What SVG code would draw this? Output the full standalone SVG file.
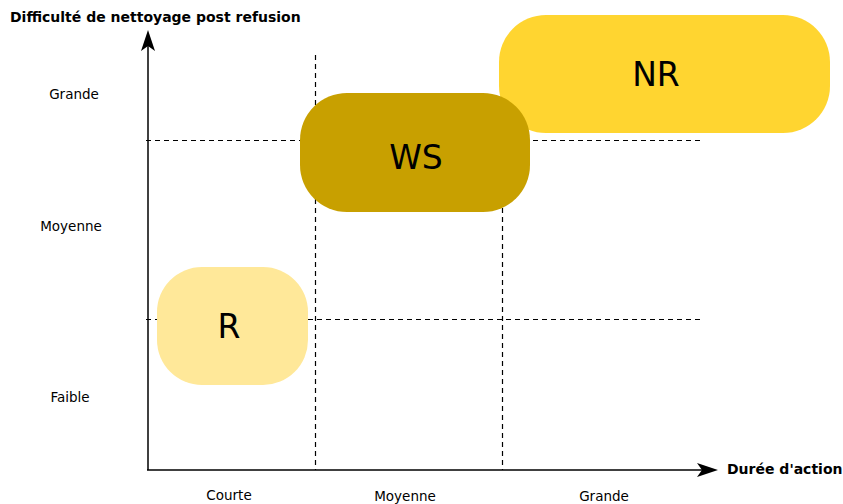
<svg xmlns="http://www.w3.org/2000/svg" width="843" height="504" viewBox="0 0 843 504">
<style>
.lbl{font-family:"DejaVu Sans",Verdana,sans-serif;font-size:13.5px;fill:#000;text-anchor:middle}
.ttl{font-family:"DejaVu Sans",Verdana,sans-serif;font-size:14px;font-weight:bold;fill:#000}
.big{font-family:"DejaVu Sans",Verdana,sans-serif;font-size:33px;fill:#000;text-anchor:middle}
.dash{stroke:#000;stroke-width:1.2;stroke-dasharray:5,4;fill:none}
.axis{stroke:#000;stroke-width:1.5;fill:none}
</style>
<rect width="843" height="504" fill="#fff"/>
<g id="grid">
<line class="dash" x1="146" y1="140.5" x2="702" y2="140.5"/>
<line class="dash" x1="146" y1="319.5" x2="702" y2="319.5"/>
<line class="dash" x1="315.5" y1="55" x2="315.5" y2="470"/>
<line class="dash" x1="502.5" y1="55" x2="502.5" y2="470"/>
</g>
<g id="axes">
<line class="axis" x1="148" y1="470" x2="148" y2="40"/>
<line class="axis" x1="147" y1="470" x2="708" y2="470"/>
<path d="M148,30 L141,51 L148,46 L155,51 Z" fill="#000"/>
<path d="M718,470 L697,463 L702,470 L697,477 Z" fill="#000"/>
<text class="ttl" x="10" y="22">Difficulté de nettoyage post refusion</text>
<text class="ttl" x="727" y="474">Durée d'action</text>
</g>
<g id="labels">
<text class="lbl" x="74" y="99">Grande</text>
<text class="lbl" x="71" y="231">Moyenne</text>
<text class="lbl" x="70" y="402">Faible</text>
<text class="lbl" x="229" y="500">Courte</text>
<text class="lbl" x="405" y="501">Moyenne</text>
<text class="lbl" x="604" y="501">Grande</text>
</g>
<g id="node-R">
<rect x="157" y="267" width="151" height="118" rx="45" fill="#FFE899"/>
<text class="big" x="229" y="338">R</text>
</g>
<g id="node-NR">
<rect x="499" y="15" width="331" height="118" rx="47" fill="#FFD530"/>
<text class="big" x="656" y="86">NR</text>
</g>
<g id="node-WS">
<rect x="300" y="93" width="230" height="119" rx="47" fill="#C8A000"/>
<text class="big" x="416" y="169">WS</text>
</g>
</svg>
